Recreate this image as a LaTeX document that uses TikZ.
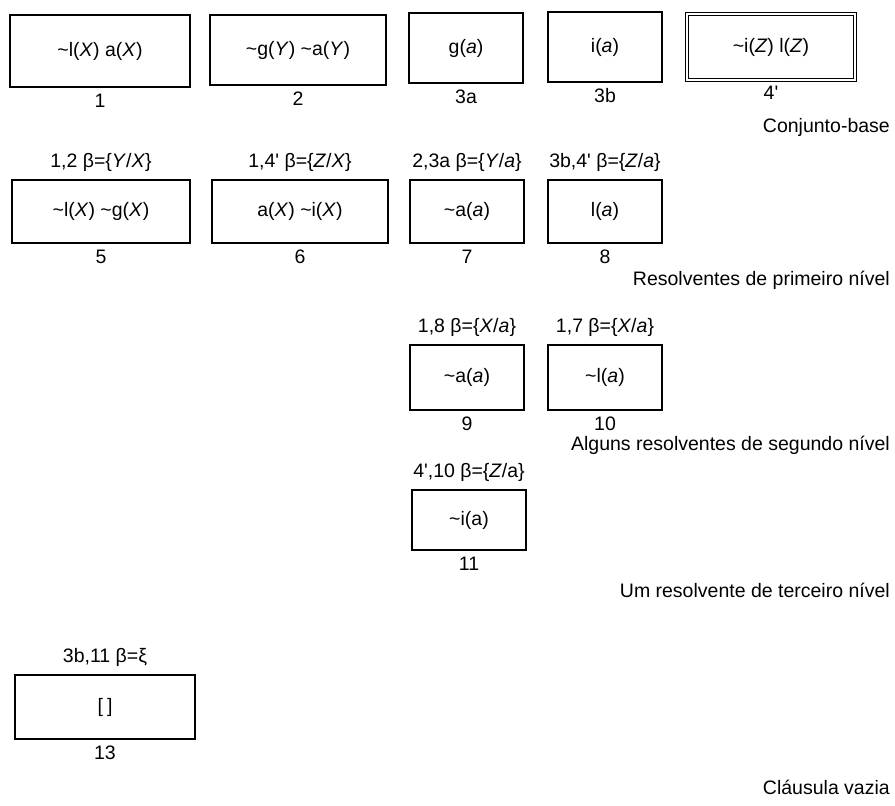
\documentclass[tikz,border=0pt]{standalone}
\usepackage{fontspec}
\setmainfont{Liberation Sans}[Ligatures=TeXOff]
\usetikzlibrary{positioning}
\newcommand\tild{\textasciitilde}
\newcommand\vx[1]{\textit{#1}}
\begin{document}
\begin{tikzpicture}[x=1pt,y=-1pt,
  every node/.style={font=\fontsize{19.5}{21}\selectfont, inner sep=0pt},
  clause/.style={draw, line width=1.3pt},
  wide/.style={minimum width=178pt},
  narrow/.style={minimum width=114pt},
  num/.style={below=6pt of #1},
  how/.style={above=8pt of #1},
  caption/.style={anchor=east}]
\useasboundingbox (0,0) rectangle (895,806);

% base set
\node[clause, minimum width=180pt, minimum height=72pt] (c1) at (100,51) {\tild l(\vx{X}) a(\vx{X})};
\node[clause, minimum width=176pt, minimum height=70pt] (c2) at (298,50) {\tild g(\vx{Y}) \tild a(\vx{Y})};
\node[clause, narrow, minimum height=70pt] (c3a) at (466,48) {g(\vx{a})};
\node[clause, narrow, minimum height=70pt] (c3b) at (605,47) {i(\vx{a})};
\node[clause, double, double distance=2pt, minimum width=168pt, minimum height=66pt] (c4) at (771,47) {\tild i(\vx{Z}) l(\vx{Z})};
\node[num=c1] (n1) {1};
\node[num=c2] (n2) {2};
\node[num=c3a] (n3a) {3a};
\node[num=c3b] (n3b) {3b};
\node[below=5pt of c4] (n4) {4'};
\node[caption] (cap0) at (890,127) {Conjunto-base};

% first-level resolvents
\node[clause, wide, minimum height=63pt] (c5) at (101,211.5) {\tild l(\vx{X}) \tild g(\vx{X})};
\node[clause, minimum width=176pt, minimum height=63pt] (c6) at (300,211.5) {a(\vx{X}) \tild i(\vx{X})};
\node[clause, narrow, minimum height=63pt] (c7) at (467,211.5) {\tild a(\vx{a})};
\node[clause, narrow, minimum height=63pt] (c8) at (605,211.5) {l(\vx{a})};
\node[how=c5] (h5) {1,2 β=\{\vx{Y}/\vx{X}\}};
\node[how=c6] (h6) {1,4' β=\{\vx{Z}/\vx{X}\}};
\node[how=c7] (h7) {2,3a β=\{\vx{Y}/\vx{a}\}};
\node[how=c8] (h8) {3b,4' β=\{\vx{Z}/\vx{a}\}};
\node[num=c5] (n5) {5};
\node[num=c6] (n6) {6};
\node[num=c7] (n7) {7};
\node[num=c8] (n8) {8};
\node[caption] (cap1) at (890,280) {Resolventes de primeiro nível};

% second-level resolvents
\node[clause, narrow, minimum height=65pt] (c9) at (467,377.5) {\tild a(\vx{a})};
\node[clause, narrow, minimum height=65pt] (c10) at (605,377.5) {\tild l(\vx{a})};
\node[how=c9] (h9) {1,8 β=\{\vx{X}/\vx{a}\}};
\node[how=c10] (h10) {1,7 β=\{\vx{X}/\vx{a}\}};
\node[num=c9] (n9) {9};
\node[num=c10] (n10) {10};
\node[caption] (cap2) at (890,445) {Alguns resolventes de segundo nível};

% third-level resolvent
\node[clause, narrow, minimum height=60pt] (c11) at (469,520) {\tild i(a)};
\node[how=c11] (h11) {4',10 β=\{\vx{Z}/a\}};
\node[num=c11] (n11) {11};
\node[caption] (cap3) at (890,590) {Um resolvente de terceiro nível};

% empty clause
\node[clause, minimum width=180pt, minimum height=64pt] (c13) at (105,707) {[\hspace{4pt}]};
\node[how=c13] (h13) {3b,11 β=ξ};
\node[num=c13] (n13) {13};
\node[caption] (cap4) at (890,787) {Cláusula vazia};
\end{tikzpicture}
\end{document}
